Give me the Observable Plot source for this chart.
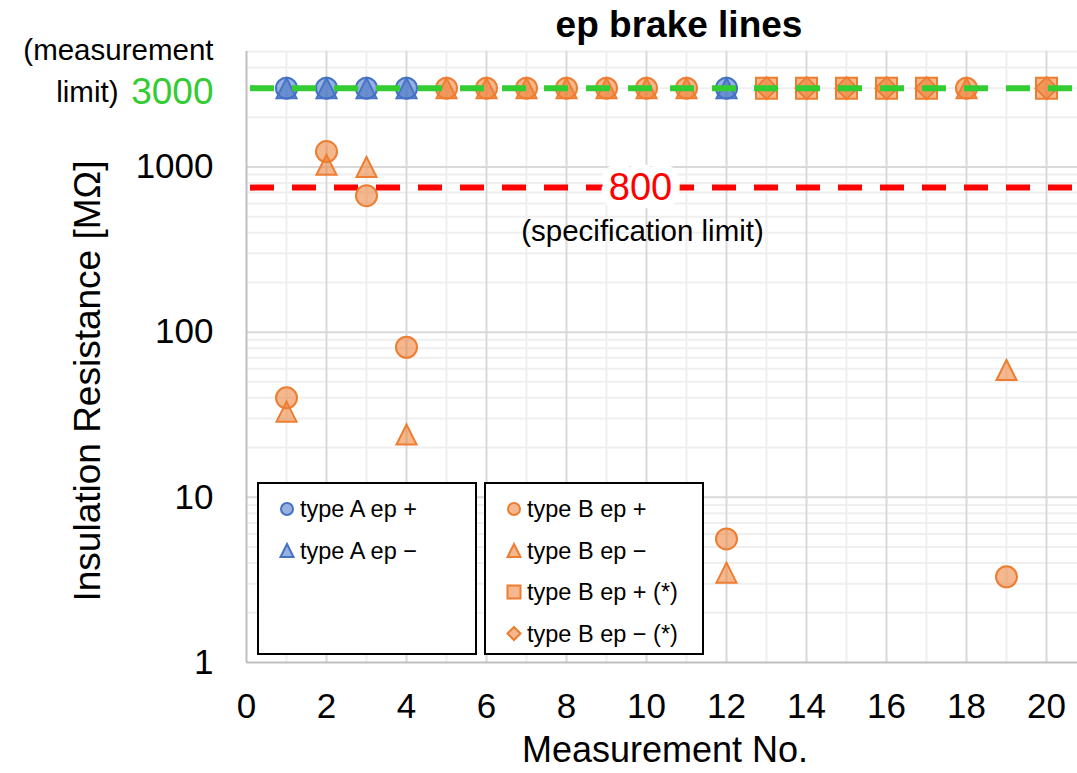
<!DOCTYPE html>
<html><head><meta charset="utf-8">
<script src="https://cdn.jsdelivr.net/npm/d3@7"></script>
<script src="https://cdn.jsdelivr.net/npm/@observablehq/plot@0.6"></script>
<style>body{margin:0;background:#fff;font-family:"Liberation Sans",Arial,sans-serif}</style>
</head><body><div id="chart"></div>
<script>
// ---- text ----
const title = "ep brake lines";
const xLabel = "Measurement No.";
const yLabel = "Insulation Resistance [MΩ]";
const measLabelTop = "(measurement";
const measLabelBottom = "limit)";
const specLabel = "(specification limit)";

// ---- ticks / grid ----
const xTicks = [0, 2, 4, 6, 8, 10, 12, 14, 16, 18, 20];
const yTicks = [1, 10, 100, 1000];
const xGridMajor = [2, 4, 6, 8, 10, 12, 14, 16, 18, 20];
const xGridMinor = [1, 3, 5, 7, 9, 11, 13, 15, 17, 19];
const yGridMajor = [10, 100, 1000];
const yGridMinor = [2,3,4,5,6,7,8,9, 20,30,40,50,60,70,80,90, 200,300,400,500,600,700,800,900, 2000,3000,4000,5000];

// ---- limits ----
const measLimit = 3000;      // green, measurement limit
const specLimit = 800;       // red label value
const specLineValue = 750;   // where the red dashed line sits in the picture

// ---- series ----
const typeAPlusX  = [1, 2, 3, 4, 12];
const typeAPlusY  = [3000, 3000, 3000, 3000, 3000];
const typeAMinusX = [1, 2, 3, 4, 12];
const typeAMinusY = [3000, 3000, 3000, 3000, 3000];
const typeBPlusX  = [1, 2, 3, 4, 5, 6, 7, 8, 9, 10, 11, 12, 18, 19];
const typeBPlusY  = [40, 1240, 670, 81, 3000, 3000, 3000, 3000, 3000, 3000, 3000, 5.6, 3000, 3.3];
const typeBMinusX = [1, 2, 3, 4, 5, 6, 7, 8, 9, 10, 11, 12, 18, 19];
const typeBMinusY = [33, 1030, 1000, 24, 3000, 3000, 3000, 3000, 3000, 3000, 3000, 3.5, 3000, 59];
const typeBPlusStarX  = [13, 14, 15, 16, 17, 20];
const typeBPlusStarY  = [3000, 3000, 3000, 3000, 3000, 3000];
const typeBMinusStarX = [13, 14, 15, 16, 17, 20];
const typeBMinusStarY = [3000, 3000, 3000, 3000, 3000, 3000];

const blue = "#4472C4", orange = "#ED7D31", green = "#33CC33", red = "#FF0000";

// custom symbols (r = half width)
const hOf = size => Math.sqrt(size / Math.PI);
const triSym = {draw(c, s){const h=hOf(s); c.moveTo(0,-h); c.lineTo(h,h); c.lineTo(-h,h); c.closePath();}};
const sqSym = {draw(c, s){const h=hOf(s); c.rect(-h,-h,2*h,2*h);}};
const diaSym = {draw(c, s){const h=hOf(s); c.moveTo(0,-h); c.lineTo(h,0); c.lineTo(0,h); c.lineTo(-h,0); c.closePath();}};
const circSym = {draw(c, s){const h=hOf(s); c.moveTo(h,0); c.arc(0,0,h,0,2*Math.PI);}};

const zip = (xs, ys) => xs.map((x, i) => ({x, y: ys[i]}));
const series = [
  {label: "type A ep +", rows: zip(typeAPlusX, typeAPlusY), sym: circSym, color: blue, r: 10.5},
  {label: "type A ep −", rows: zip(typeAMinusX, typeAMinusY), sym: triSym, color: blue, r: 10},
  {label: "type B ep +", rows: zip(typeBPlusX, typeBPlusY), sym: circSym, color: orange, r: 10.5},
  {label: "type B ep −", rows: zip(typeBMinusX, typeBMinusY), sym: triSym, color: orange, r: 10},
  {label: "type B ep − (*)", rows: zip(typeBMinusStarX, typeBMinusStarY), sym: diaSym, color: orange, r: 11},
  {label: "type B ep + (*)", rows: zip(typeBPlusStarX, typeBPlusStarY), sym: sqSym, color: orange, r: 10.5},
];

const dash = {strokeDasharray: "24,18", strokeDashoffset: 38};

const plot = Plot.plot({
  width: 1077, height: 773,
  marginLeft: 246, marginRight: 0, marginTop: 51, marginBottom: 111,
  style: {fontFamily: '"Liberation Sans", Arial, sans-serif', background: "white", color: "black"},
  x: {domain: [0, 20.775], axis: null},
  y: {type: "log", domain: [1, 5000], axis: null},
  marks: [
    Plot.ruleX(xGridMinor, {stroke: "#efefef", strokeWidth: 2}),
    Plot.ruleY(yGridMinor, {stroke: "#efefef", strokeWidth: 2}),
    Plot.ruleX(xGridMajor, {stroke: "#d9d9d9", strokeWidth: 2}),
    Plot.ruleY(yGridMajor, {stroke: "#d9d9d9", strokeWidth: 2}),
    Plot.ruleX([0], {stroke: "#bfbfbf", strokeWidth: 2}),
    Plot.ruleY([1], {stroke: "#bfbfbf", strokeWidth: 2}),
    Plot.ruleY([specLineValue], {stroke: red, strokeWidth: 6, ...dash}),
    ...series.map(s => Plot.dot(s.rows, {x: "x", y: "y", r: s.r, symbol: s.sym,
        fill: s.color, fillOpacity: 0.55, stroke: s.color, strokeWidth: 2})),
    Plot.ruleY([measLimit], {stroke: green, strokeWidth: 6, ...dash}),
    Plot.text([specLimit], {y: () => specLineValue, text: d => String(d), frameAnchor: "left", dx: 394,
        textAnchor: "middle", lineAnchor: "middle",
        fill: red, fontSize: 38, stroke: "white", strokeWidth: 18, strokeLinejoin: "miter"}),
    Plot.text([specLabel], {y: () => specLineValue, text: d => d, frameAnchor: "left", dx: 396, dy: 44,
        textAnchor: "middle", lineAnchor: "middle", fill: "black", fontSize: 29.5}),
    // tick labels
    Plot.text(yTicks, {y: d => d, text: d => String(d), frameAnchor: "left", textAnchor: "end", lineAnchor: "middle", dx: -33,
        fontSize: 35, fill: "black"}),
    Plot.text(xTicks, {x: d => d, text: d => String(d), frameAnchor: "bottom", textAnchor: "middle", lineAnchor: "top", dy: 31,
        fontSize: 35, fill: "black"}),
    // measurement limit annotation
    Plot.text([measLimit], {y: d => d, text: d => String(d), frameAnchor: "left", textAnchor: "end", lineAnchor: "middle", dx: -33, dy: 4,
        fontSize: 37, fill: green}),
    Plot.text([measLabelTop], {y: () => measLimit, text: d => d, frameAnchor: "left", textAnchor: "end", lineAnchor: "middle", dx: -33, dy: -38,
        fontSize: 29.5, fill: "black"}),
    Plot.text([measLabelBottom], {y: () => measLimit, text: d => d, frameAnchor: "left", textAnchor: "end", lineAnchor: "middle", dx: -128, dy: 4,
        fontSize: 29.5, fill: "black"}),
    // titles
    Plot.text([title], {text: d => d, frameAnchor: "top", textAnchor: "middle", lineAnchor: "middle", dx: 17, dy: -26,
        fontSize: 37, fontWeight: "bold", fill: "black"}),
    Plot.text([xLabel], {text: d => d, frameAnchor: "bottom", textAnchor: "middle", lineAnchor: "middle", dx: 3, dy: 88,
        fontSize: 36, fill: "black"}),
    Plot.text([yLabel], {text: d => d, frameAnchor: "left", textAnchor: "middle", lineAnchor: "middle", rotate: -90, dx: -158, dy: 24,
        fontSize: 37, fill: "black"}),
  ]
});

document.getElementById("chart").appendChild(plot);

// ---- legend boxes (two framed groups inside the plot area) ----
const svg = d3.select(plot);
const legendGroups = [
  {x: 258, items: [series[0], series[1]]},
  {x: 485, items: [series[2], series[3], series[5], series[4]]},
];
const lg = svg.append("g").attr("font-size", 23.5).attr("fill", "black").attr("text-anchor", "start");
legendGroups.forEach(g => {
  lg.append("rect").attr("x", g.x).attr("y", 483).attr("width", 218).attr("height", 171)
    .attr("fill", "white").attr("stroke", "black").attr("stroke-width", 2);
  g.items.forEach((s, i) => {
    const cy = 509 + i * 41.5;
    const mr = s.sym === circSym ? 6 : 6.5;
    lg.append("path").attr("transform", `translate(${g.x + 29},${cy})`)
      .attr("d", d3.symbol().type(s.sym).size(Math.PI * mr * mr)())
      .attr("fill", s.color).attr("fill-opacity", 0.55).attr("stroke", s.color).attr("stroke-width", 2);
    lg.append("text").attr("x", g.x + 42).attr("y", cy).attr("dy", "0.35em").attr("text-anchor", "start").text(s.label);
  });
});
</script>
</body></html>
